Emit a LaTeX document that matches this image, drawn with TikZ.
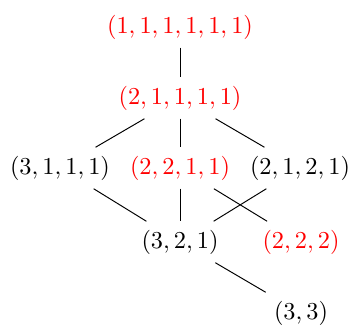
\documentclass[tikz,border=0pt]{standalone}
\usepackage{amsmath,amssymb}
\usetikzlibrary{positioning}

\begin{document}
\begin{tikzpicture}[x=0.01446cm,y=0.01446cm,
  hl/.style={text=red}]
\useasboundingbox (0,0) rectangle (353,326);
\node[hl] (p111111) at (180,299) {$(1,1,1,1,1,1)$};
\node[hl] (p21111) at (180,228) {$(2,1,1,1,1)$};
\node (p3111) at (60,158) {$(3,1,1,1)$};
\node[hl] (p2211) at (180,158) {$(2,2,1,1)$};
\node (p2121) at (300,158) {$(2,1,2,1)$};
\node (p321) at (180,84) {$(3,2,1)$};
\node[hl] (p222) at (301,84) {$(2,2,2)$};
\node (p33) at (301,13) {$(3,3)$};
\draw (p111111)--(p21111);
\draw (p21111)--(p3111);
\draw (p21111)--(p2211);
\draw (p21111)--(p2121);
\draw (p3111)--(p321);
\draw (p2211)--(p321);
\draw (p2121)--(p321);
\draw (p2211)--(p222);
\draw (p321)--(p33);
\end{tikzpicture}
\end{document}
